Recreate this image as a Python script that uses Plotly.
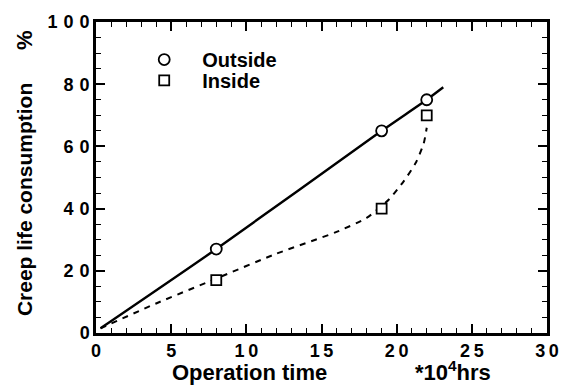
import plotly.graph_objects as go

# Measured data points
time_pts = [8, 19, 22]
outside_pts = [27, 65, 75]
inside_pts = [17, 40, 70]

# Fitted curves
outside_curve_x = [0.3, 8, 19, 22, 23.1]
outside_curve_y = [1.5, 27, 65, 75, 79]
inside_curve_x = [0.3, 4, 8, 12, 16, 18, 19.5, 20.5, 21.3, 21.8, 22.0]
inside_curve_y = [1.5, 9.5, 17.5, 25.5, 32.5, 37, 43, 49, 55, 61, 66]

x_ticks = [0, 5, 10, 15, 20, 25, 30]
y_ticks = [0, 20, 40, 60, 80, 100]

FONT = "Liberation Sans, Arial, sans-serif"


def spaced(v, sep):
    return sep.join(str(v))


fig = go.Figure()
fig.add_trace(go.Scatter(x=outside_curve_x, y=outside_curve_y, mode="lines",
                         line=dict(color="black", width=2.4, shape="spline", smoothing=0.6),
                         showlegend=False, hoverinfo="skip"))
fig.add_trace(go.Scatter(x=inside_curve_x, y=inside_curve_y, mode="lines",
                         line=dict(color="black", width=2, dash="6px,6px", shape="spline", smoothing=0.6),
                         showlegend=False, hoverinfo="skip"))
fig.add_trace(go.Scatter(x=time_pts, y=outside_pts, mode="markers", name="Outside",
                         legend="legend",
                         marker=dict(symbol="circle", size=11, color="white",
                                     line=dict(color="black", width=1.8))))
fig.add_trace(go.Scatter(x=time_pts, y=inside_pts, mode="markers", name="Inside",
                         legend="legend2",
                         marker=dict(symbol="square", size=10, color="white",
                                     line=dict(color="black", width=1.8))))
# invisible trace to carry the mirrored (top/right) axes
fig.add_trace(go.Scatter(x=[0], y=[0], xaxis="x2", yaxis="y2", mode="markers",
                         marker=dict(opacity=0), showlegend=False, hoverinfo="skip"))

tickfont = dict(family=FONT, size=18, color="black", weight="bold")
axis_common = dict(showgrid=False, zeroline=False, showline=True, linecolor="black",
                   linewidth=2.5, ticks="inside", tickcolor="black",
                   tickwidth=1.8, ticklen=9, tickfont=tickfont)
xminor = dict(dtick=1, ticks="inside", ticklen=5, tickcolor="black", tickwidth=1.3)
yminor = dict(dtick=5, ticks="inside", ticklen=5, tickcolor="black", tickwidth=1.3)

fig.update_layout(
    xaxis=dict(range=[0, 30], tickvals=x_ticks,
               ticktext=[spaced(v, "\u2009") for v in x_ticks],
               minor=xminor, **axis_common),
    yaxis=dict(range=[0, 100], tickvals=y_ticks,
               ticktext=[spaced(v, "\u2004") for v in y_ticks],
               minor=yminor, **axis_common),
    xaxis2=dict(range=[0, 30], overlaying="x", side="top", anchor="y", tickvals=x_ticks,
                showticklabels=False, minor=xminor, **axis_common),
    yaxis2=dict(range=[0, 100], overlaying="y", side="right", anchor="x", tickvals=y_ticks,
                showticklabels=False, minor=yminor, **axis_common),
)

legfont = dict(family=FONT, size=20, color="black", weight="bold")
fig.update_layout(
    width=571, height=385,
    margin=dict(l=96, r=13, t=22, b=52),
    plot_bgcolor="white", paper_bgcolor="white",
    font=dict(family=FONT, color="black"),
    legend=dict(x=0.067, y=0.942, xanchor="left", yanchor="top",
                bgcolor="rgba(0,0,0,0)", font=legfont, itemwidth=66),
    legend2=dict(x=0.067, y=0.875, xanchor="left", yanchor="top",
                 bgcolor="rgba(0,0,0,0)", font=legfont, itemwidth=66),
    annotations=[
        dict(text="Operation time", xref="paper", yref="paper", x=0.165, y=-0.174,
             xanchor="left", yanchor="bottom", showarrow=False,
             font=dict(family=FONT, size=22, color="black", weight="bold")),
        dict(text="*10<sup>4</sup>hrs", xref="paper", yref="paper", x=0.703, y=-0.174,
             xanchor="left", yanchor="bottom", showarrow=False,
             font=dict(family=FONT, size=22, color="black", weight="bold")),
        dict(text="Creep life consumption", xref="paper", yref="paper", x=-0.16, y=0.43,
             xanchor="center", yanchor="middle", showarrow=False, textangle=-90,
             font=dict(family=FONT, size=21, color="black", weight="bold")),
        dict(text="%", xref="paper", yref="paper", x=-0.16, y=0.942,
             xanchor="center", yanchor="middle", showarrow=False, textangle=-90,
             font=dict(family=FONT, size=22, color="black", weight="bold")),
    ],
)

fig.write_html("out.html")
